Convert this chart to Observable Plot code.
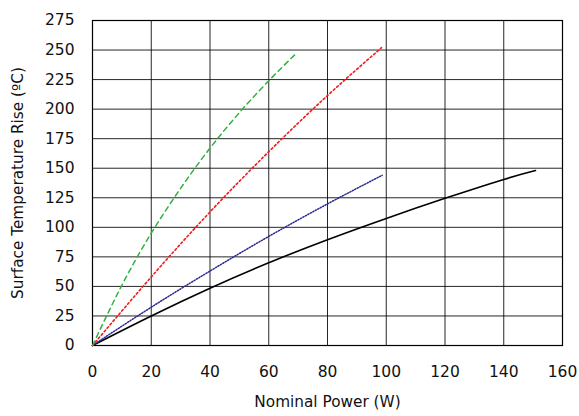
<!DOCTYPE html>
<html><head><meta charset="utf-8">
<script src="https://cdn.jsdelivr.net/npm/d3@7"></script>
<script src="https://cdn.jsdelivr.net/npm/@observablehq/plot@0.6"></script>
<style>body{margin:0;background:#fff}</style>
</head><body><div id="chart"></div>
<script>
const xTicks = [0,20,40,60,80,100,120,140,160];
const yTicks = [0,25,50,75,100,125,150,175,200,225,250,275];
const xLabel = "Nominal Power (W)";
const yLabel = "Surface Temperature Rise (ºC)";

const blackX = [0,20,40,60,80,100,120,140,150.8];
const blackY = [0,25,48.5,70,89.5,107.5,124.5,140.5,148];
const blueX = [0,20,40,60,80,98.6];
const blueY = [0,32.4,63,92.3,119.8,144];
const redX = [0,20,40,60,80,98.4];
const redY = [0,58,113,164,211.5,252];
const greenX = [0,10,20,30,40,50,60,69.7];
const greenY = [0,51,95,133,167,197,224,248];

const mk = (xs, ys) => xs.map((x,i)=>({x, y: ys[i]}));
const font = "'DejaVu Sans', sans-serif";

const chart = Plot.plot({
  width: 579, height: 416,
  marginLeft: 92, marginRight: 17, marginTop: 20, marginBottom: 71,
  style: {fontFamily: font, fontSize: "15px", color: "#111", background: "#fff"},
  x: {domain: [0,160], ticks: xTicks, label: null},
  y: {domain: [0,275], ticks: yTicks, label: null},
  marks: [
    Plot.gridX(xTicks, {stroke: "#000", strokeOpacity: 0.85, strokeWidth: 1}),
    Plot.gridY(yTicks, {stroke: "#000", strokeOpacity: 0.85, strokeWidth: 1}),
    Plot.frame({stroke: "#000", strokeWidth: 1.2}),
    Plot.axisX(xTicks, {tickSize: 0, tickPadding: 20, fontSize: 15.5}),
    Plot.axisY(yTicks, {tickSize: 0, tickPadding: 18, fontSize: 15.5}),
    Plot.line(mk(blackX, blackY), {x: "x", y: "y", stroke: "#000", strokeWidth: 1.6, curve: "natural"}),
    Plot.line(mk(blueX, blueY), {x: "x", y: "y", stroke: "#2a2a90", strokeWidth: 1.5, strokeDasharray: "1.2,1.6", curve: "natural"}),
    Plot.line(mk(redX, redY), {x: "x", y: "y", stroke: "#ee1c1c", strokeWidth: 1.6, strokeDasharray: "2,2.5", curve: "natural"}),
    Plot.line(mk(greenX, greenY), {x: "x", y: "y", stroke: "#33b040", strokeWidth: 1.5, strokeDasharray: "5,4", curve: "natural"}),
    Plot.text([xLabel], {text: d => d, frameAnchor: "bottom", dy: 61, fontSize: 15.3, fill: "#111"}),
    Plot.text([yLabel], {text: d => d, frameAnchor: "left", textAnchor: "middle", rotate: -90, dx: -74, fontSize: 15.3, fill: "#111"})
  ]
});
document.getElementById("chart").append(chart);
</script>
</body></html>
